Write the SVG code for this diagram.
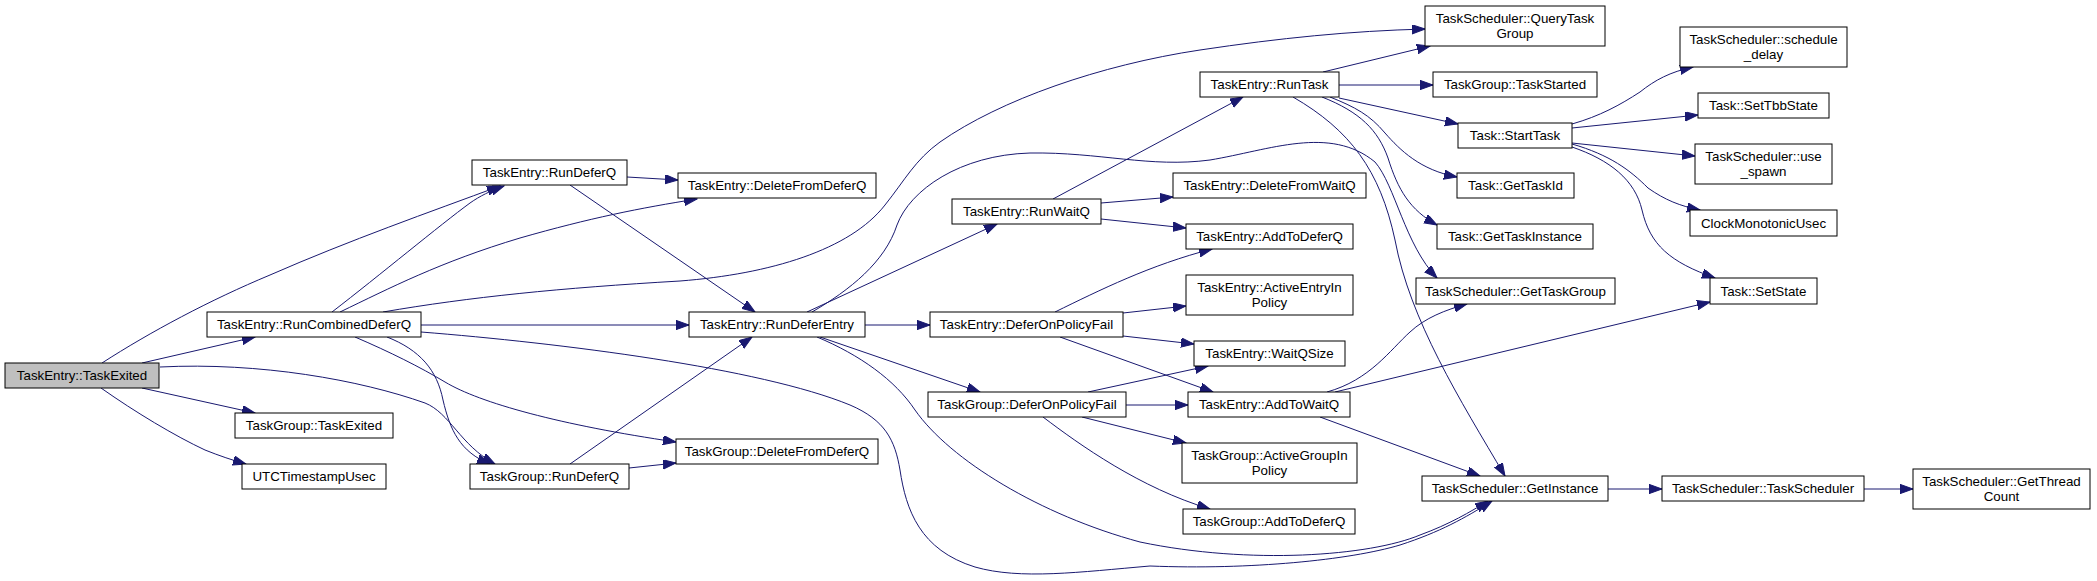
<svg xmlns="http://www.w3.org/2000/svg" width="2097" height="581" viewBox="0 0 2097 581">
<style>
.n rect{fill:#fff;stroke:#000;stroke-width:1}
.n.root rect{fill:#bfbfbf}
.n text{font-family:"Liberation Sans",Arial,Helvetica,sans-serif;font-size:13.33px;fill:#000;text-anchor:middle}
#edges path{fill:none;stroke:#191970;stroke-width:1;marker-end:url(#ah)}
</style>
<defs>
<marker id="ah" markerUnits="userSpaceOnUse" markerWidth="14" markerHeight="10" refX="13" refY="4.65" orient="auto">
<path d="M0,0 L13,4.65 L0,9.3 Z" fill="#191970" stroke="#191970" stroke-width="1"/>
</marker>
</defs>
<rect width="2097" height="581" fill="#fff"/>
<g id="edges">
<path d="M102,363 C150,332 210,300 270,275 C350,240 430,212 500,186"/>
<path d="M142,363 L255,337"/>
<path d="M142,388 L255,413"/>
<path d="M101,388 C135,412 175,436 205,450 C220,456 232,460 246,464"/>
<path d="M160,367 C260,362 360,380 425,403 C450,413 460,445 495,464"/>
<path d="M332,312 C380,275 440,225 470,203 C480,196 490,191 504,186"/>
<path d="M340,312 C390,288 440,262 520,238 C590,218 640,208 697,199"/>
<path d="M383,312 C470,297 560,288 680,281 C770,274 850,250 885,205 C905,180 915,160 940,142 C1000,100 1100,65 1200,50 C1280,38 1350,31 1425,29"/>
<path d="M421,325 L689,325"/>
<path d="M421,332 C560,343 760,368 850,405 C885,420 895,440 900,470 C906,510 920,550 975,567 C1020,580 1080,572 1150,566 C1250,570 1350,560 1400,545 C1440,532 1465,518 1492,501"/>
<path d="M355,337 C390,352 420,367 445,382 C480,403 560,425 676,442"/>
<path d="M387,337 C420,350 437,370 443,400 C450,430 460,452 490,464"/>
<path d="M627,177 L678,180"/>
<path d="M570,185 L755,312"/>
<path d="M570,464 L752,337"/>
<path d="M629,468 L676,463"/>
<path d="M807,312 L997,224"/>
<path d="M812,312 C850,290 885,262 897,225 C910,190 960,155 1030,153 C1100,152 1150,168 1210,160 C1270,150 1330,125 1375,162 C1395,185 1405,245 1437,278"/>
<path d="M865,325 L930,325"/>
<path d="M820,337 L980,392"/>
<path d="M817,337 C860,355 895,380 915,410 C950,460 1040,515 1140,542 C1250,565 1370,556 1420,535 C1450,524 1470,512 1488,501"/>
<path d="M1053,199 L1243,97"/>
<path d="M1101,203 L1173,197"/>
<path d="M1101,219 L1186,228"/>
<path d="M1055,312 C1100,290 1150,265 1212,249"/>
<path d="M1123,313 L1186,306"/>
<path d="M1123,336 L1194,344"/>
<path d="M1060,337 L1213,392"/>
<path d="M1088,392 L1208,366"/>
<path d="M1126,405 L1188,405"/>
<path d="M1082,417 L1186,443"/>
<path d="M1043,417 C1080,445 1140,488 1210,509"/>
<path d="M1323,72 L1430,46"/>
<path d="M1339,85 L1433,85"/>
<path d="M1339,98 L1458,124"/>
<path d="M1330,97 C1355,107 1370,115 1385,133 C1400,150 1420,170 1457,177"/>
<path d="M1322,97 C1360,112 1378,130 1388,158 C1398,190 1410,210 1437,225"/>
<path d="M1293,97 C1350,130 1380,170 1395,240 C1410,320 1460,400 1505,476"/>
<path d="M1327,392 C1370,380 1390,350 1410,332 C1425,318 1445,310 1467,304"/>
<path d="M1335,392 L1710,302"/>
<path d="M1320,417 L1480,476"/>
<path d="M1572,124 C1600,116 1620,105 1640,92 C1655,80 1670,72 1693,67"/>
<path d="M1572,128 L1698,115"/>
<path d="M1572,143 L1695,156"/>
<path d="M1572,144 C1610,155 1630,170 1648,188 C1665,200 1680,206 1700,210"/>
<path d="M1572,147 C1610,160 1635,180 1642,210 C1650,245 1670,262 1715,278"/>
<path d="M1608,489 L1662,489"/>
<path d="M1864,489 L1913,489"/>
</g>
<g id="n_TaskExited" class="n root"><rect x="5" y="363" width="154" height="25"/><text x="82" y="380">TaskEntry::TaskExited</text></g>
<g id="n_RunCombinedDeferQ" class="n"><rect x="207" y="312" width="214" height="25"/><text x="314" y="329">TaskEntry::RunCombinedDeferQ</text></g>
<g id="n_TG_TaskExited" class="n"><rect x="235" y="413" width="158" height="25"/><text x="314" y="430">TaskGroup::TaskExited</text></g>
<g id="n_UTCTimestampUsec" class="n"><rect x="242" y="464" width="144" height="25"/><text x="314" y="481">UTCTimestampUsec</text></g>
<g id="n_TE_RunDeferQ" class="n"><rect x="472" y="160" width="155" height="25"/><text x="549.5" y="177">TaskEntry::RunDeferQ</text></g>
<g id="n_TG_RunDeferQ" class="n"><rect x="470" y="464" width="159" height="25"/><text x="549.5" y="481">TaskGroup::RunDeferQ</text></g>
<g id="n_TE_DeleteFromDeferQ" class="n"><rect x="678" y="173" width="198" height="25"/><text x="777" y="190">TaskEntry::DeleteFromDeferQ</text></g>
<g id="n_RunDeferEntry" class="n"><rect x="689" y="312" width="176" height="25"/><text x="777" y="329">TaskEntry::RunDeferEntry</text></g>
<g id="n_TG_DeleteFromDeferQ" class="n"><rect x="676" y="439" width="202" height="25"/><text x="777" y="456">TaskGroup::DeleteFromDeferQ</text></g>
<g id="n_RunWaitQ" class="n"><rect x="952" y="199" width="149" height="25"/><text x="1026.5" y="216">TaskEntry::RunWaitQ</text></g>
<g id="n_TE_DeferOnPolicyFail" class="n"><rect x="930" y="312" width="193" height="25"/><text x="1026.5" y="329">TaskEntry::DeferOnPolicyFail</text></g>
<g id="n_TG_DeferOnPolicyFail" class="n"><rect x="928" y="392" width="198" height="25"/><text x="1027" y="409">TaskGroup::DeferOnPolicyFail</text></g>
<g id="n_RunTask" class="n"><rect x="1200" y="72" width="139" height="25"/><text x="1269.5" y="89">TaskEntry::RunTask</text></g>
<g id="n_DeleteFromWaitQ" class="n"><rect x="1173" y="173" width="193" height="25"/><text x="1269.5" y="190">TaskEntry::DeleteFromWaitQ</text></g>
<g id="n_TE_AddToDeferQ" class="n"><rect x="1186" y="224" width="167" height="25"/><text x="1269.5" y="241">TaskEntry::AddToDeferQ</text></g>
<g id="n_ActiveEntryInPolicy" class="n"><rect x="1186" y="275" width="167" height="40"/><text x="1269.5" y="291.5">TaskEntry::ActiveEntryIn</text><text x="1269.5" y="306.5">Policy</text></g>
<g id="n_WaitQSize" class="n"><rect x="1194" y="341" width="151" height="25"/><text x="1269.5" y="358">TaskEntry::WaitQSize</text></g>
<g id="n_AddToWaitQ" class="n"><rect x="1188" y="392" width="162" height="25"/><text x="1269" y="409">TaskEntry::AddToWaitQ</text></g>
<g id="n_ActiveGroupInPolicy" class="n"><rect x="1182" y="443" width="175" height="40"/><text x="1269.5" y="459.5">TaskGroup::ActiveGroupIn</text><text x="1269.5" y="474.5">Policy</text></g>
<g id="n_TG_AddToDeferQ" class="n"><rect x="1183" y="509" width="172" height="25"/><text x="1269" y="526">TaskGroup::AddToDeferQ</text></g>
<g id="n_QueryTaskGroup" class="n"><rect x="1425" y="6" width="180" height="40"/><text x="1515" y="22.5">TaskScheduler::QueryTask</text><text x="1515" y="37.5">Group</text></g>
<g id="n_TaskStarted" class="n"><rect x="1433" y="72" width="164" height="25"/><text x="1515" y="89">TaskGroup::TaskStarted</text></g>
<g id="n_StartTask" class="n"><rect x="1458" y="123" width="114" height="25"/><text x="1515" y="140">Task::StartTask</text></g>
<g id="n_GetTaskId" class="n"><rect x="1457" y="173" width="117" height="25"/><text x="1515.5" y="190">Task::GetTaskId</text></g>
<g id="n_GetTaskInstance" class="n"><rect x="1437" y="224" width="156" height="25"/><text x="1515" y="241">Task::GetTaskInstance</text></g>
<g id="n_GetTaskGroup" class="n"><rect x="1416" y="278" width="199" height="26"/><text x="1515.5" y="295.5">TaskScheduler::GetTaskGroup</text></g>
<g id="n_GetInstance" class="n"><rect x="1422" y="476" width="186" height="25"/><text x="1515" y="493">TaskScheduler::GetInstance</text></g>
<g id="n_schedule_delay" class="n"><rect x="1680" y="27" width="167" height="40"/><text x="1763.5" y="43.5">TaskScheduler::schedule</text><text x="1763.5" y="58.5">_delay</text></g>
<g id="n_SetTbbState" class="n"><rect x="1698" y="93" width="131" height="25"/><text x="1763.5" y="110">Task::SetTbbState</text></g>
<g id="n_use_spawn" class="n"><rect x="1695" y="144" width="137" height="40"/><text x="1763.5" y="160.5">TaskScheduler::use</text><text x="1763.5" y="175.5">_spawn</text></g>
<g id="n_ClockMonotonicUsec" class="n"><rect x="1690" y="210" width="147" height="26"/><text x="1763.5" y="227.5">ClockMonotonicUsec</text></g>
<g id="n_SetState" class="n"><rect x="1710" y="278" width="107" height="26"/><text x="1763.5" y="295.5">Task::SetState</text></g>
<g id="n_TaskScheduler" class="n"><rect x="1662" y="476" width="202" height="25"/><text x="1763" y="493">TaskScheduler::TaskScheduler</text></g>
<g id="n_GetThreadCount" class="n"><rect x="1913" y="469" width="177" height="40"/><text x="2001.5" y="485.5">TaskScheduler::GetThread</text><text x="2001.5" y="500.5">Count</text></g>
</svg>
